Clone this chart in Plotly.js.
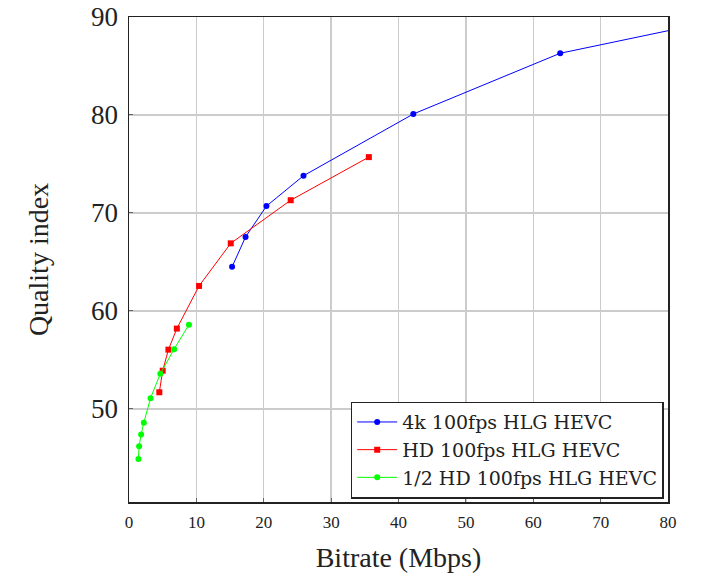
<!DOCTYPE html>
<html>
<head>
<meta charset="utf-8">
<script src="https://cdn.plot.ly/plotly-3.0.1.min.js"></script>
<style>html,body{margin:0;padding:0;background:#fff;}#chart{width:701px;height:583px;}</style>
</head>
<body>
<div id="chart"></div>
<script>
const seriesNames = ["4k 100fps HLG HEVC", "HD 100fps HLG HEVC", "1/2 HD 100fps HLG HEVC"];
const bitrate4k = [15.3, 17.3, 20.4, 25.9, 42.2, 64.0, 96.0];
const quality4k = [64.5, 67.55, 70.7, 73.8, 80.1, 86.3, 90.9];
const bitrateHD = [4.5, 5.0, 5.85, 7.1, 10.4, 15.1, 24.0, 35.6];
const qualityHD = [51.7, 53.9, 56.05, 58.2, 62.55, 66.9, 71.3, 75.7];
const bitrateHalf = [1.4, 1.5, 1.8, 2.2, 3.2, 4.65, 6.7, 8.9];
const qualityHalf = [44.9, 46.2, 47.4, 48.6, 51.1, 53.6, 56.1, 58.6];
const xTicks = [0, 10, 20, 30, 40, 50, 60, 70, 80];
const yTicks = [50, 60, 70, 80, 90];

const serif = "Liberation Serif";
const traces = [
  {x: bitrate4k, y: quality4k, name: seriesNames[0], mode: "lines+markers",
   line: {color: "#0000ff", width: 1}, marker: {color: "#0000ff", symbol: "circle", size: 6}},
  {x: bitrateHD, y: qualityHD, name: seriesNames[1], mode: "lines+markers",
   line: {color: "#ff0000", width: 1}, marker: {color: "#ff0000", symbol: "square", size: 6}},
  {x: bitrateHalf, y: qualityHalf, name: seriesNames[2], mode: "lines+markers",
   line: {color: "#00ff00", width: 1}, marker: {color: "#00ff00", symbol: "circle", size: 6}}
];
const layout = {
  width: 701, height: 583,
  margin: {l: 129, r: 33, t: 17, b: 81},
  paper_bgcolor: "#fff", plot_bgcolor: "#fff",
  showlegend: true,
  font: {family: serif, color: "#222"},
  xaxis: {
    range: [0, 80], tickvals: xTicks, ticktext: xTicks.map(String),
    showgrid: true, gridcolor: "#cccccc", gridwidth: 1.3,
    showline: true, linecolor: "#222", linewidth: 1.5, mirror: true,
    zeroline: false, ticks: "inside", ticklen: 4, tickcolor: "#666",
    tickfont: {size: 17, family: serif}, ticklabelstandoff: 4,
    title: {text: "Bitrate (Mbps)", font: {size: 28, family: serif}, standoff: 16}
  },
  yaxis: {
    range: [40.5, 90], tickvals: yTicks, ticktext: yTicks.map(String),
    showgrid: true, gridcolor: "#cccccc", gridwidth: 1.3,
    showline: true, linecolor: "#222", linewidth: 1.5, mirror: true,
    zeroline: false, ticks: "inside", ticklen: 4, tickcolor: "#666",
    tickfont: {size: 27, family: serif}, ticklabelstandoff: 4,
    title: {text: "Quality index", font: {size: 28, family: serif}, standoff: 34}
  },
  legend: {
    x: 0.992, y: 0.007, xanchor: "right", yanchor: "bottom",
    bgcolor: "#fff", bordercolor: "#222", borderwidth: 1.5,
    font: {size: 19, family: "DejaVu Serif", color: "#222"},
    tracegroupgap: 0, itemwidth: 40
  }
};
Plotly.newPlot("chart", traces, layout, {displayModeBar: false, staticPlot: true});
</script>
</body>
</html>
